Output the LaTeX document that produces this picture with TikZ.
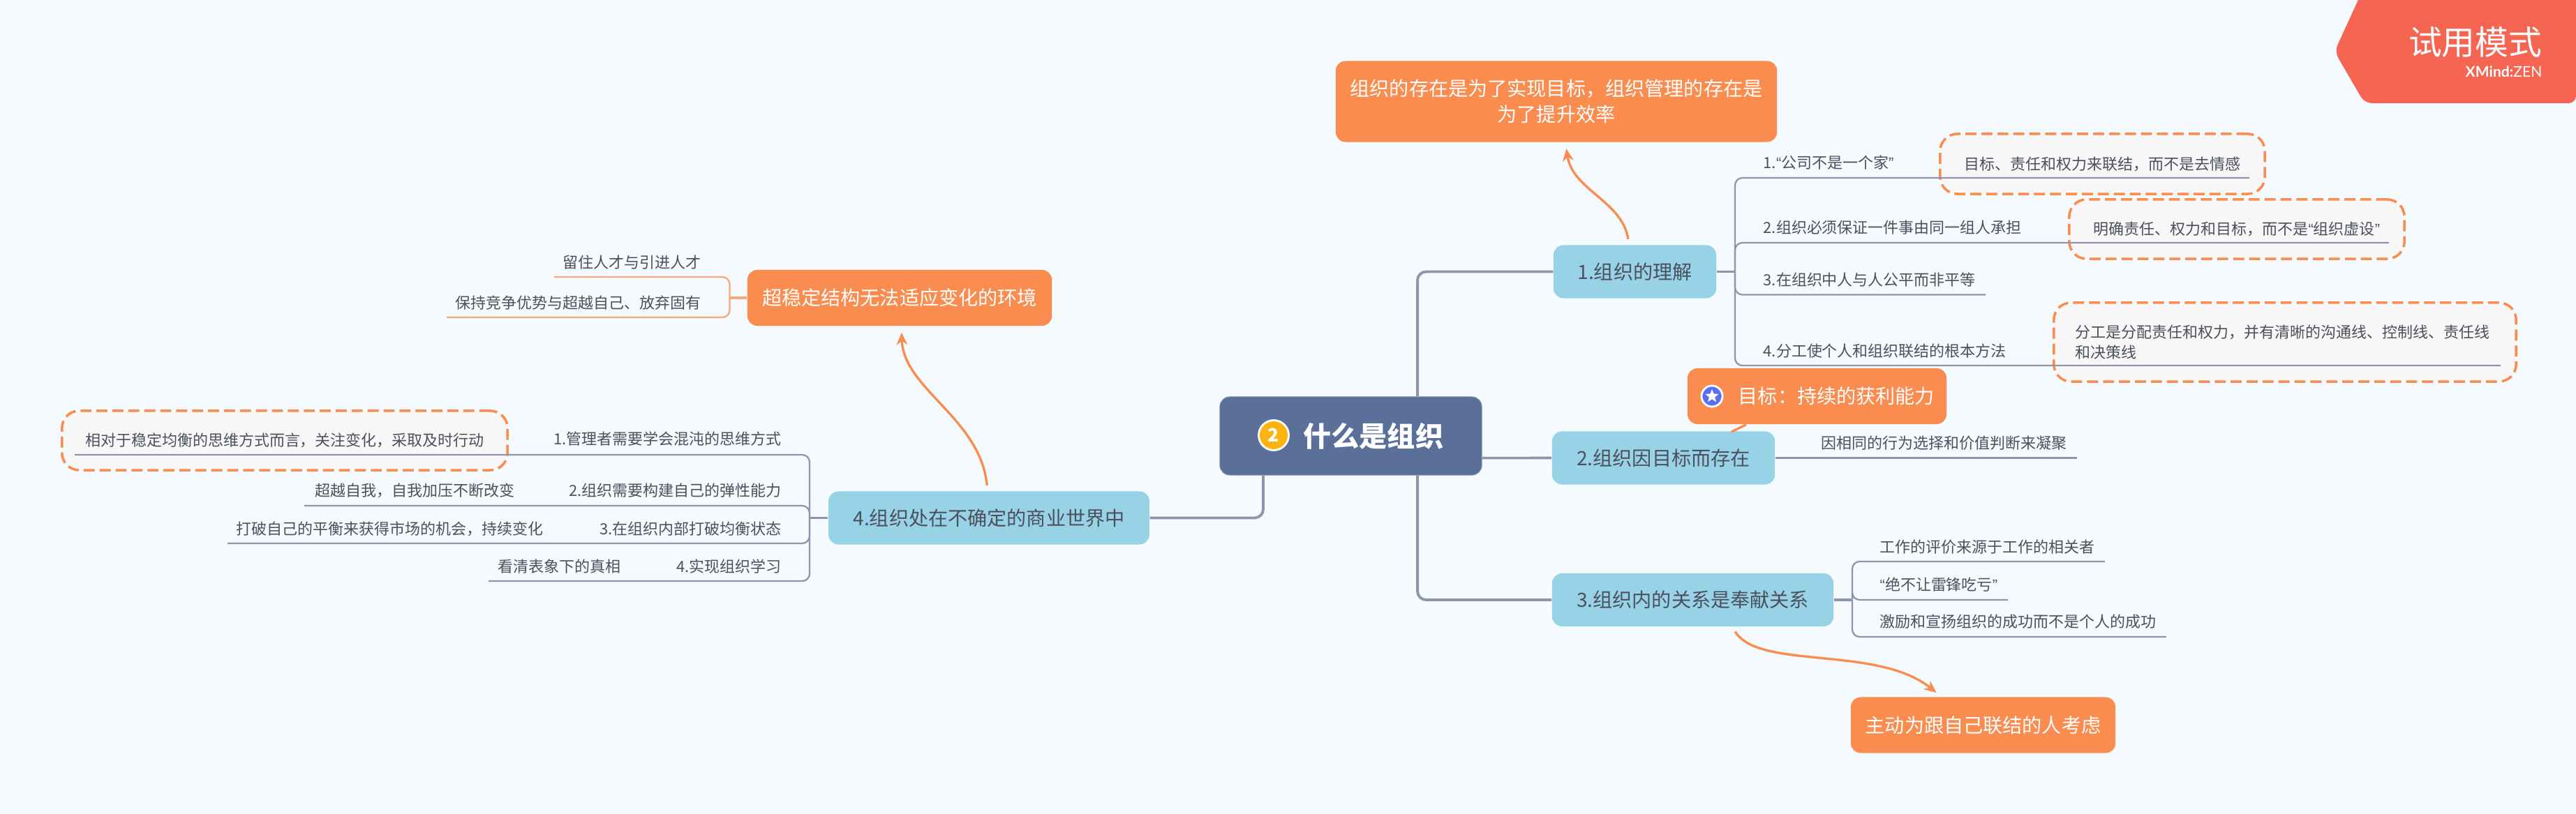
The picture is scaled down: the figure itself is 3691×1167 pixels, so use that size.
\documentclass[tikz,border=0pt]{standalone}
\usepackage{fontspec}
\usepackage{xcolor}
\usepackage{tikz}
\usetikzlibrary{arrows.meta, shapes.geometric}
\setmainfont{Noto Sans CJK SC}
\newfontfamily\latinfont{Liberation Sans}
\newfontfamily\brandfont{Lato}
\definecolor{pagebg}{HTML}{F5FAFE}
\definecolor{rootblue}{HTML}{5A7099}
\definecolor{topicblue}{HTML}{97D2E7}
\definecolor{noteorange}{HTML}{F98C4E}
\definecolor{softorange}{HTML}{FBA677}
\definecolor{badgered}{HTML}{F66551}
\definecolor{calloutfill}{HTML}{F7F7F7}
\definecolor{inkgrey}{HTML}{4B505C}
\definecolor{linegrey}{HTML}{8D96AC}
\definecolor{stargrey}{HTML}{5B6DF2}
\definecolor{numberyellow}{HTML}{FDB30F}
\newcommand{\qL}{{\latinfont “}}
\newcommand{\qR}{{\latinfont ”}}
\newcommand{\cnComma}{\char"FF0C\relax}
\newcommand{\cnColon}{\char"FF1A\relax}

\begin{document}
\begin{tikzpicture}[x=0.01cm, y=-0.01cm,
  box/.style={rectangle, rounded corners=4pt, inner sep=0pt, font=\fontsize{8}{10.5}\selectfont},
  rootbox/.style={box, fill=rootblue, draw=rootblue!80!white, line width=0.3pt, minimum width=3.75cm, minimum height=1.12cm},
  topicbox/.style={box, fill=topicblue, text=inkgrey, minimum height=0.76cm},
  notebox/.style={box, fill=noteorange, text=white, minimum height=0.8cm},
  callout/.style={box, rounded corners=7pt, fill=calloutfill, draw=noteorange, line width=1pt, dash pattern=on 4.5pt off 2pt, text=inkgrey, font=\fontsize{6.25}{8.25}\selectfont},
  twig/.style={inner sep=0pt, text=inkgrey, font=\fontsize{6.25}{8.25}\selectfont},
  trunk/.style={draw=linegrey, line width=1.1pt, rounded corners=3.5pt},
  stub/.style={draw=linegrey, line width=1pt},
  branch/.style={draw=linegrey, line width=0.65pt, rounded corners=3pt},
  softstub/.style={draw=softorange, line width=1pt},
  softbranch/.style={draw=softorange, line width=0.65pt, rounded corners=3pt},
  relation/.style={draw=noteorange, line width=0.95pt, -{Stealth[length=5pt, width=4.4pt]}, shorten >=0.09cm, shorten <=0.08cm}]
  \path[fill=pagebg, use as bounding box] (0,0) rectangle (3691,1167);

  \fill[badgered, rounded corners=3pt] (3388,-20) -- (3345,74) -- (3388,148) -- (3691,148) -- (3691,-20) -- cycle;
  \node[anchor=east, inner sep=0pt, text=white, font=\fontsize{13.6}{16}\selectfont] (trialmark) at (3643,60) {试用模式};
  \node[anchor=east, inner sep=0pt, text=white, font=\brandfont\fontsize{6}{7.5}\selectfont] (brandmark) at (3643,103) {\textbf{XMind:}ZEN};

  \node[rootbox] (root) at (1935.5,625) {};
  \node[circle, fill=numberyellow, draw=white, line width=0.8pt, minimum size=0.43cm, inner sep=0pt, text=white, font=\bfseries\fontsize{7.5}{9}\selectfont] (rootnumber) at (1825,624) {2};
  \node[anchor=west, inner sep=0pt, text=white, font=\bfseries\fontsize{11.4}{14}\selectfont] (roottitle) at (1867,625) {什么是组织};

  \node[topicbox, minimum width=2.33cm] (topic1) at (2342.5,389.5) {1.组织的理解};
  \node[topicbox, minimum width=3.19cm] (topic2) at (2383.5,656.5) {2.组织因目标而存在};
  \node[topicbox, minimum width=4.03cm] (topic3) at (2425.5,860) {3.组织内的关系是奉献关系};
  \node[topicbox, minimum width=4.595cm] (topic4) at (1417,742.5) {4.组织处在不确定的商业世界中};

  \node[notebox, minimum width=6.32cm, minimum height=1.16cm, align=center] (goal1) at (2230,145.5) {组织的存在是为了实现目标\cnComma 组织管理的存在是\\为了提升效率};
  \node[notebox, minimum width=3.71cm] (goal2) at (2603.5,568) {};
  \node[circle, fill=stargrey, draw=white, line width=0.8pt, minimum size=0.3cm, inner sep=0pt] (goal2icon) at (2453,568) {};
  \node[star, star points=5, star point ratio=2.3, fill=white, minimum size=0.2cm, inner sep=0pt] (goal2star) at (2453,568) {};
  \node[anchor=west, inner sep=0pt, text=white, font=\fontsize{8}{10.5}\selectfont] (goal2text) at (2490,568) {目标\cnColon 持续的获利能力};
  \node[notebox, minimum width=3.79cm] (goal3) at (2841.5,1039.5) {主动为跟自己联结的人考虑};
  \node[notebox, minimum width=4.36cm] (goal4) at (1289,427) {超稳定结构无法适应变化的环境};

  \node[callout, minimum width=4.65cm, minimum height=0.86cm] (note1a) at (3012.5,235) {目标、责任和权力来联结\cnComma 而不是去情感};
  \node[callout, minimum width=4.8cm, minimum height=0.85cm] (note1b) at (3205,328.5) {明确责任、权力和目标\cnComma 而不是\qL 组织虚设\qR};
  \node[callout, minimum width=6.62cm, minimum height=1.13cm, text width=6cm, align=left] (note1d) at (3274,490.5) {分工是分配责任和权力\cnComma 并有清晰的沟通线、控制线、责任线\\和决策线};
  \node[callout, minimum width=6.38cm, minimum height=0.85cm] (note4a) at (408,631.5) {相对于稳定均衡的思维方式而言\cnComma 关注变化\cnComma 采取及时行动};

  \node[twig, anchor=west] (sub1a) at (2526,233) {1.\qL 公司不是一个家\qR};
  \node[twig, anchor=west] (sub1b) at (2526,326) {2.组织必须保证一件事由同一组人承担};
  \node[twig, anchor=west] (sub1c) at (2526,401) {3.在组织中人与人公平而非平等};
  \node[twig, anchor=west] (sub1d) at (2526,503) {4.分工使个人和组织联结的根本方法};
  \node[twig, anchor=west] (sub2a) at (2609,635) {因相同的行为选择和价值判断来凝聚};
  \node[twig, anchor=west] (sub3a) at (2693,784) {工作的评价来源于工作的相关者};
  \node[twig, anchor=west] (sub3b) at (2693,838) {\qL 绝不让雷锋吃亏\qR};
  \node[twig, anchor=west] (sub3c) at (2693,891) {激励和宣扬组织的成功而不是个人的成功};
  \node[twig, anchor=east] (sub4a) at (1120,629) {1.管理者需要学会混沌的思维方式};
  \node[twig, anchor=east] (sub4b) at (1120,703) {2.组织需要构建自己的弹性能力};
  \node[twig, anchor=east] (sub4c) at (1120,758) {3.在组织内部打破均衡状态};
  \node[twig, anchor=east] (sub4d) at (1120,812) {4.实现组织学习};
  \node[twig, anchor=east] (leaf4b) at (738,703) {超越自我\cnComma 自我加压不断改变};
  \node[twig, anchor=east] (leaf4c) at (779,758) {打破自己的平衡来获得市场的机会\cnComma 持续变化};
  \node[twig, anchor=east] (leaf4d) at (890,812) {看清表象下的真相};
  \node[twig, anchor=east] (subg4a) at (1005,376) {留住人才与引进人才};
  \node[twig, anchor=east] (subg4b) at (1005,434) {保持竞争优势与超越自己、放弃固有};

  \coordinate (hub1) at (2486,389.5);
  \coordinate (hub3) at (2654,860);
  \coordinate (hub4) at (1160,742.5);
  \coordinate (hubg4) at (1045.5,427);
  \coordinate (end1a) at (3223,255);
  \coordinate (end1b) at (3423,348);
  \coordinate (end1c) at (2845,422.5);
  \coordinate (end1d) at (3583,524);
  \coordinate (end2a) at (2976,656.5);
  \coordinate (end3a) at (3016,805);
  \coordinate (end3b) at (2877,860);
  \coordinate (end3c) at (3104,913);
  \coordinate (end4a) at (107,652);
  \coordinate (end4b) at (436,725);
  \coordinate (end4c) at (326,779);
  \coordinate (end4d) at (700,833);
  \coordinate (endg4a) at (794,397);
  \coordinate (endg4b) at (640,455);

  \draw[trunk] ([xshift=0.955cm]root.north) |- (topic1.west);
  \draw[stub] ([yshift=-0.315cm]root.east) -- (topic2.west);
  \draw[trunk] ([xshift=0.955cm]root.south) |- (topic3.west);
  \draw[trunk] ([xshift=-1.255cm]root.south) |- (topic4.east);

  \draw[stub] (topic1.east) -- (hub1);
  \foreach \tip in {end1a, end1b, end1c, end1d} {
    \draw[branch] (hub1) |- (\tip);
  }
  \draw[branch] (topic2.east) -- (end2a);
  \draw[stub] (topic3.east) -- (hub3);
  \foreach \tip in {end3a, end3b, end3c} {
    \draw[branch] (hub3) |- (\tip);
  }
  \draw[stub] (topic4.west) -- (hub4);
  \foreach \tip in {end4a, end4b, end4c, end4d} {
    \draw[branch] (hub4) |- (\tip);
  }
  \draw[softstub] (goal4.west) -- (hubg4);
  \foreach \tip in {endg4a, endg4b} {
    \draw[softbranch] (hubg4) |- (\tip);
  }

  \draw[relation] ([xshift=-0.085cm]topic1.north) .. controls +(-9,-62) and +(10,68) .. ([xshift=0.13cm]goal1.south);
  \draw[draw=noteorange, line width=0.95pt, shorten >=-0.03cm] ([xshift=-1.015cm]goal2.south) -- ([xshift=1cm]topic2.north);
  \draw[relation] ([xshift=0.565cm]topic3.south) .. controls +(38,62) and +(-91,-74) .. ([xshift=-0.6cm]goal3.north);
  \draw[relation] ([xshift=-0.02cm]topic4.north) .. controls +(-10,-104) and +(3,90) .. ([xshift=0.025cm]goal4.south);
\end{tikzpicture}
\end{document}
